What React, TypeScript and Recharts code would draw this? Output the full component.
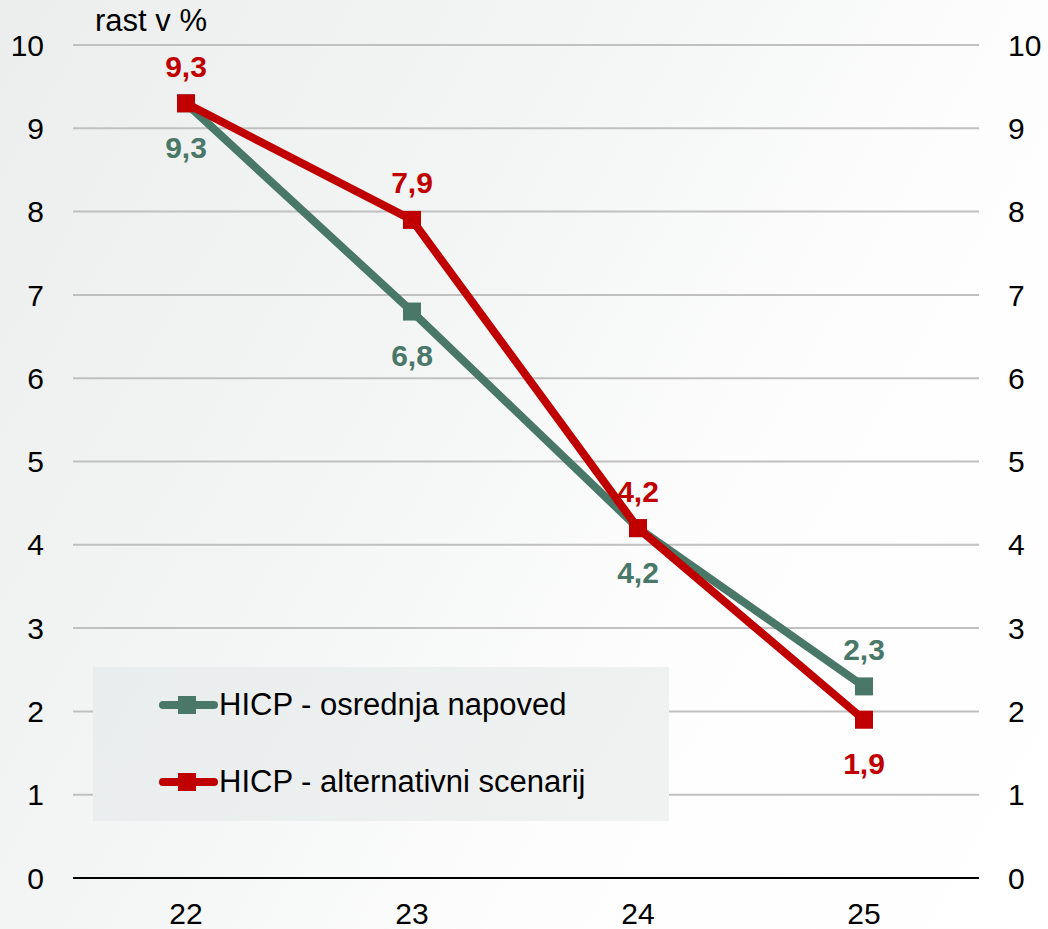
import React from 'react';
import { LineChart, Line, XAxis, YAxis, CartesianGrid, LabelList } from 'recharts';

const years = ['22', '23', '24', '25'];
const baseline = [9.3, 6.8, 4.2, 2.3];
const alternative = [9.3, 7.9, 4.2, 1.9];
const yTicks = [0, 1, 2, 3, 4, 5, 6, 7, 8, 9, 10];

const GREEN = '#4a7868';
const RED = '#c00000';
const FONT = '"Liberation Sans", Arial, sans-serif';

const data = years.map((y, i) => ({ year: y, base: baseline[i], alt: alternative[i] }));

// where each value label sits relative to its point
const basePlacement = ['below', 'below', 'below', 'above'];
const altPlacement = ['above', 'above', 'above', 'below'];

function Square({ cx, cy, fill }: any) {
  if (cx == null || cy == null) return null;
  return <rect x={cx - 9} y={cy - 9} width={18} height={18} fill={fill} />;
}

function makeLabel(color: string, placement: string[]) {
  return (props: any) => {
    const { x, y, value, index } = props;
    const dy = placement[index] === 'above' ? -37 : 44;
    return (
      <text
        x={x}
        y={y + dy}
        fill={color}
        fontSize={30}
        fontWeight="bold"
        fontFamily={FONT}
        textAnchor="middle"
        dominantBaseline="central"
      >
        {String(value).replace('.', ',')}
      </text>
    );
  };
}

function LegendBox() {
  const items = [
    { label: 'HICP - osrednja napoved', color: GREEN },
    { label: 'HICP - alternativni scenarij', color: RED },
  ];
  return (
    <div
      style={{
        position: 'absolute',
        left: 93,
        top: 667,
        width: 576,
        height: 154,
        background: 'linear-gradient(120deg, #eaeded 0%, #f0f2f2 100%)',
        fontFamily: FONT,
      }}
    >
      {items.map((it, i) => (
        <div
          key={it.label}
          style={{ position: 'absolute', left: 62, top: 18 + i * 77, height: 40, display: 'flex', alignItems: 'center' }}
        >
          <svg width={64} height={40} style={{ display: 'block' }}>
            <line x1={8} y1={20} x2={59} y2={20} stroke={it.color} strokeWidth={8} strokeLinecap="round" />
            <rect x={23} y={11} width={18} height={18} fill={it.color} />
          </svg>
          <span style={{ fontSize: 31, color: '#000', lineHeight: '40px' }}>{it.label}</span>
        </div>
      ))}
    </div>
  );
}

export default function App() {
  const tick = { fill: '#000', fontSize: 30, fontFamily: FONT };
  return (
    <div
      style={{
        position: 'absolute',
        left: 0,
        top: 0,
        width: 1048,
        height: 929,
        background: 'linear-gradient(120deg, #eceeee 0%, #f4f5f5 40%, #fdfdfd 65%, #ffffff 100%)',
        fontFamily: FONT,
      }}
    >
      <div style={{ position: 'absolute', left: 95, top: 3, fontSize: 31, color: '#000' }}>rast v %</div>
      <div style={{ position: 'absolute', left: 0, top: 0 }}>
        <LineChart width={1048} height={929} data={data} margin={{ top: 45, right: 0, bottom: 0, left: 0 }}>
          <CartesianGrid vertical={false} stroke="#c0c0c0" strokeWidth={2} yAxisId="left" />
          <XAxis
            dataKey="year"
            tick={tick}
            tickLine={false}
            axisLine={{ stroke: '#000', strokeWidth: 2 }}
            tickMargin={19}
            height={51}
            padding={{ left: 113, right: 115 }}
          />
          <YAxis
            yAxisId="left"
            domain={[0, 10]}
            ticks={yTicks}
            width={73}
            tick={tick}
            tickLine={false}
            axisLine={false}
            tickMargin={23}
            interval={0}
          />
          <YAxis
            yAxisId="right"
            orientation="right"
            domain={[0, 10]}
            ticks={yTicks}
            width={69}
            tick={tick}
            tickLine={false}
            axisLine={false}
            tickMargin={23}
            interval={0}
          />
          <Line
            yAxisId="left"
            dataKey="base"
            stroke={GREEN}
            strokeWidth={8}
            dot={<Square fill={GREEN} />}
            activeDot={false}
            isAnimationActive={false}
          >
            <LabelList dataKey="base" content={makeLabel(GREEN, basePlacement)} />
          </Line>
          <Line
            yAxisId="right"
            dataKey="alt"
            stroke={RED}
            strokeWidth={8}
            dot={<Square fill={RED} />}
            activeDot={false}
            isAnimationActive={false}
          >
            <LabelList dataKey="alt" content={makeLabel(RED, altPlacement)} />
          </Line>
        </LineChart>
      </div>
      <LegendBox />
    </div>
  );
}
